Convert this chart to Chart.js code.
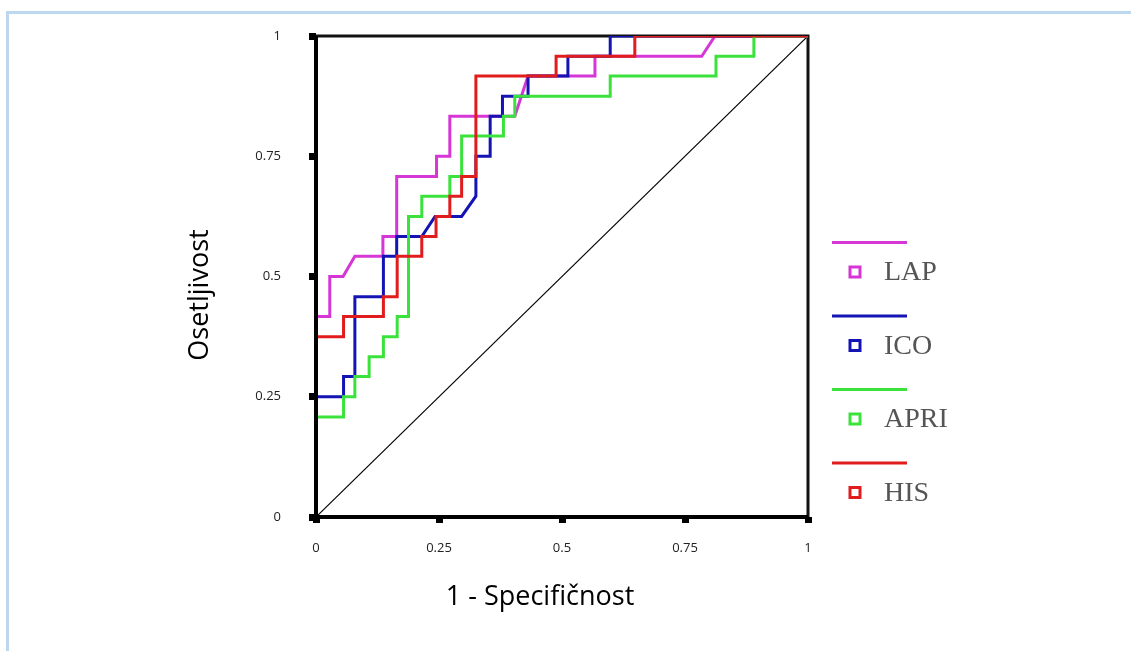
<!DOCTYPE html>
<html>
<head>
<meta charset="utf-8">
<title>ROC krive</title>
<script src="https://cdn.jsdelivr.net/npm/chart.js@4.4.1/dist/chart.umd.min.js"></script>
<style>
  html, body { margin: 0; padding: 0; background: #fff; }
  #wrap { position: relative; width: 1131px; height: 651px; overflow: hidden; }
  #frame {
    position: absolute; left: 6px; top: 11px; width: 1200px; height: 700px;
    border-left: 3px solid #bdd7ee; border-top: 3px solid #bdd7ee;
  }
  canvas { position: absolute; left: 0; top: 0; }
</style>
</head>
<body>
<div id="wrap">
  <div id="frame"></div>
  <canvas id="rocChart" width="1131" height="651"></canvas>
</div>
<script>
// ROC data (1 - specificity / sensitivity)
const seriesNames = ["LAP", "ICO", "APRI", "HIS"];
const seriesColors = ["#d636d6", "#1414b4", "#3ce23c", "#e01c1c"];

const lapX = [0, 0, 0.028, 0.028, 0.055, 0.079, 0.136, 0.136, 0.164, 0.164, 0.245, 0.245, 0.272, 0.272, 0.404, 0.431, 0.567, 0.567, 0.784, 0.811, 1];
const lapY = [0, 0.417, 0.417, 0.5, 0.5, 0.542, 0.542, 0.583, 0.583, 0.708, 0.708, 0.75, 0.75, 0.833, 0.833, 0.917, 0.917, 0.958, 0.958, 1, 1];

const icoX = [0, 0, 0.056, 0.056, 0.079, 0.079, 0.137, 0.137, 0.164, 0.164, 0.215, 0.242, 0.296, 0.325, 0.325, 0.354, 0.354, 0.379, 0.379, 0.431, 0.431, 0.512, 0.512, 0.598, 0.598, 1];
const icoY = [0, 0.25, 0.25, 0.292, 0.292, 0.458, 0.458, 0.542, 0.542, 0.583, 0.583, 0.625, 0.625, 0.667, 0.75, 0.75, 0.833, 0.833, 0.875, 0.875, 0.917, 0.917, 0.958, 0.958, 1, 1];

const apriX = [0, 0, 0.056, 0.056, 0.079, 0.079, 0.108, 0.108, 0.137, 0.137, 0.165, 0.165, 0.188, 0.188, 0.215, 0.215, 0.272, 0.272, 0.296, 0.296, 0.381, 0.381, 0.404, 0.404, 0.598, 0.598, 0.813, 0.813, 0.89, 0.89, 1];
const apriY = [0, 0.208, 0.208, 0.25, 0.25, 0.292, 0.292, 0.333, 0.333, 0.375, 0.375, 0.417, 0.417, 0.625, 0.625, 0.667, 0.667, 0.708, 0.708, 0.792, 0.792, 0.833, 0.833, 0.875, 0.875, 0.917, 0.917, 0.958, 0.958, 1, 1];

const hisX = [0, 0, 0.056, 0.056, 0.137, 0.137, 0.165, 0.165, 0.215, 0.215, 0.244, 0.244, 0.272, 0.272, 0.296, 0.296, 0.325, 0.325, 0.488, 0.488, 0.648, 0.648, 1];
const hisY = [0, 0.375, 0.375, 0.417, 0.417, 0.458, 0.458, 0.542, 0.542, 0.583, 0.583, 0.625, 0.625, 0.667, 0.667, 0.708, 0.708, 0.917, 0.917, 0.958, 0.958, 1, 1];

const refX = [0, 1];
const refY = [0, 1];

const tickValues = [0, 0.25, 0.5, 0.75, 1];
const tickLabels = ["0", "0.25", "0.5", "0.75", "1"];

const xTitle = "1 - Specifičnost";
const yTitle = "Osetljivost";

function toPoints(xs, ys) {
    return xs.map((x, i) => ({ x: x, y: ys[i] }));
}

const curveX = [lapX, icoX, apriX, hisX];
const curveY = [lapY, icoY, apriY, hisY];

const datasets = seriesNames.map((name, i) => ({
    label: name,
    data: toPoints(curveX[i], curveY[i]),
    borderColor: seriesColors[i],
    borderWidth: 3,
    pointRadius: 0,
    showLine: true,
    order: seriesNames.length - i // HIS ends up on top
}));
datasets.push({
    label: "ref",
    data: toPoints(refX, refY),
    borderColor: "#000",
    borderWidth: 1.2,
    pointRadius: 0,
    showLine: true,
    order: 10
});

// box round the plot, axis titles and the legend on the right
const frameAndLegend = {
    id: "frameAndLegend",
    beforeDatasetsDraw(chart) {
        const { ctx, chartArea: a } = chart;
        ctx.save();
        ctx.strokeStyle = "#111";
        ctx.lineWidth = 3;
        ctx.beginPath();
        ctx.moveTo(a.left, a.top);
        ctx.lineTo(a.right, a.top);
        ctx.lineTo(a.right, a.bottom);
        ctx.stroke();
        ctx.restore();
    },
    afterDatasetsDraw(chart) {
        const { ctx, chartArea: a } = chart;
        ctx.save();
        ctx.strokeStyle = "#000";
        ctx.lineWidth = 4;
        ctx.beginPath();
        ctx.moveTo(a.left, a.top);
        ctx.lineTo(a.left, a.bottom);
        ctx.lineTo(a.right, a.bottom);
        ctx.stroke();
        ctx.restore();
    },
    afterDraw(chart) {
        const ctx = chart.ctx;
        ctx.save();

        // axis titles (sit a bit off the plot centre in the original)
        ctx.fillStyle = "#000";
        ctx.font = "27px 'Open Sans', sans-serif";
        ctx.textAlign = "center";
        ctx.textBaseline = "middle";
        ctx.fillText(xTitle, 540, 597);
        ctx.save();
        ctx.translate(200, 295);
        ctx.rotate(-Math.PI / 2);
        ctx.fillText(yTitle, 0, 0);
        ctx.restore();

        for (let i = 0; i < seriesNames.length; i++) {
            const ly = 242.5 + i * 73.5;
            ctx.strokeStyle = seriesColors[i];
            ctx.lineWidth = 3;
            ctx.beginPath();
            ctx.moveTo(832, ly);
            ctx.lineTo(907, ly);
            ctx.stroke();

            const my = ly + 29.5;
            ctx.fillStyle = "#fff";
            ctx.fillRect(850, my - 5, 10, 10);
            ctx.lineWidth = 3;
            ctx.strokeRect(850, my - 5, 10, 10);

            ctx.fillStyle = "#555";
            ctx.font = "28px 'Liberation Serif', 'Times New Roman', serif";
            ctx.textBaseline = "middle";
            ctx.textAlign = "left";
            ctx.fillText(seriesNames[i], 884, my + 1);
        }
        ctx.restore();
    }
};

function axisTicks(s) {
    s.ticks = tickValues.map(v => ({ value: v }));
}
function tickText(value) {
    const i = tickValues.indexOf(value);
    return i >= 0 ? tickLabels[i] : "";
}

const ctx = document.getElementById("rocChart").getContext("2d");
const rocChart = new Chart(ctx, {
    type: "scatter",
    data: { datasets: datasets },
    options: {
        responsive: false,
        animation: false,
        layout: { padding: { left: 176, top: 36, right: 323, bottom: 0 } },
        plugins: {
            legend: { display: false },
            tooltip: { enabled: false }
        },
        scales: {
            x: {
                type: "linear",
                min: 0,
                max: 1,
                afterFit: s => { s.height = 134; },
                afterBuildTicks: axisTicks,
                border: { display: false },
                grid: {
                    drawOnChartArea: false,
                    drawTicks: true,
                    tickLength: 6,
                    tickWidth: 7,
                    tickColor: "#000"
                },
                ticks: {
                    padding: 17,
                    color: "#222",
                    callback: tickText,
                    font: { family: "'Open Sans', sans-serif", size: 13 }
                }
            },
            y: {
                type: "linear",
                min: 0,
                max: 1,
                afterFit: s => { s.width = 140; },
                afterBuildTicks: axisTicks,
                border: { display: false },
                grid: {
                    drawOnChartArea: false,
                    drawTicks: true,
                    tickLength: 7,
                    tickWidth: 7,
                    tickColor: "#000"
                },
                ticks: {
                    padding: 28,
                    color: "#222",
                    callback: tickText,
                    font: { family: "'Open Sans', sans-serif", size: 13 }
                }
            }
        }
    },
    plugins: [frameAndLegend]
});
</script>
</body>
</html>
